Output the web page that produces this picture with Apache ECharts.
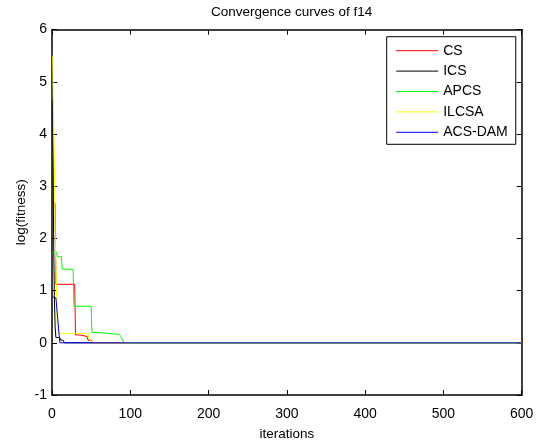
<!DOCTYPE html>
<html>
<head>
<meta charset="utf-8">
<script src="https://cdn.jsdelivr.net/npm/echarts@6/dist/echarts.min.js"></script>
<style>html,body{margin:0;padding:0;background:#fff}#c{width:537px;height:446px}</style>
</head>
<body>
<div id="c"></div>
<script>
var seriesNames = ['CS', 'ICS', 'APCS', 'ILCSA', 'ACS-DAM'];
var seriesColors = ['#ff0000', '#000000', '#00ff00', '#ffff00', '#0000ff'];
var xTicks = [0, 100, 200, 300, 400, 500, 600];
var yTicks = [-1, 0, 1, 2, 3, 4, 5, 6];
// [iteration, log(fitness)] vertices
var csData = [[1,2.7],[4,2.67],[5,1.12],[29,1.12],[30,0.15],[36,0.15],[37,0.12],[45,0.12],[46,0.05],[50,0.05],[52,0],[600,0]];
var icsData = [[1,4.65],[2,2.1],[3,0.9],[4,0.3],[5,0.1],[10,0.1],[11,0.05],[14,0.05],[16,0],[600,0]];
var apcsData = [[1,1.73],[6,1.73],[7,1.65],[12,1.65],[13,1.41],[27,1.41],[28,0.7],[50,0.7],[51,0.2],[65,0.19],[66,0.17],[86,0.16],[88,0.12],[92,0],[600,0]];
var ilcsaData = [[1,5.5],[2,4.3],[3,3.5],[4,2.1],[5,1.5],[6,0.8],[7,0.18],[46,0.18],[47,0.08],[50,0.03],[53,0],[600,0]];
var acsdamData = [[1,0.88],[5,0.86],[10,0],[600,0]];

var allData = [csData, icsData, apcsData, ilcsaData, acsdamData];
var font = 'Liberation Sans, Arial, Helvetica, sans-serif';

var chart = echarts.init(document.getElementById('c'), null, {renderer: 'canvas'});
var axisCommon = {
  axisLine: {show: true, onZero: false, lineStyle: {color: '#000', width: 1.5}},
  axisTick: {show: true, inside: true, length: 5, lineStyle: {color: '#000', width: 1}},
  splitLine: {show: false}
};
var option = {
  animation: false,
  backgroundColor: '#fff',
  title: {
    text: 'Convergence curves of f14',
    left: 286.7, top: 0, textAlign: 'center',
    textStyle: {fontFamily: font, fontSize: 13.5, fontWeight: 'normal', color: '#000'}
  },
  grid: {left: 52, right: 15.3, top: 29.6, bottom: 45},
  legend: {
    data: seriesNames,
    orient: 'vertical',
    left: 386.7, top: 36.7,
    padding: [7, 8, 5, 9],
    itemWidth: 42, itemHeight: 14, itemGap: 6.4,
    itemStyle: {opacity: 0},
    lineStyle: {width: 1},
    backgroundColor: '#fff',
    borderColor: '#000', borderWidth: 1,
    textStyle: {fontFamily: font, fontSize: 14, color: '#000'}
  },
  xAxis: [
    Object.assign({
      type: 'value', min: xTicks[0], max: xTicks[xTicks.length - 1], interval: 100,
      name: 'iterations', nameLocation: 'middle', nameGap: 32, nameMoveOverlap: false,
      nameTextStyle: {fontFamily: font, fontSize: 13.5, color: '#000'},
      axisLabel: {fontFamily: font, fontSize: 14, color: '#000', margin: 12}
    }, axisCommon),
    Object.assign({
      type: 'value', position: 'top', min: xTicks[0], max: xTicks[xTicks.length - 1], interval: 100,
      axisLabel: {show: false}
    }, axisCommon)
  ],
  yAxis: [
    Object.assign({
      type: 'value', min: yTicks[0], max: yTicks[yTicks.length - 1], interval: 1,
      name: 'log(fitness)', nameLocation: 'middle', nameGap: 24, nameMoveOverlap: false,
      nameTextStyle: {fontFamily: font, fontSize: 13.5, color: '#000'},
      axisLabel: {fontFamily: font, fontSize: 14, color: '#000', margin: 5}
    }, axisCommon),
    Object.assign({
      type: 'value', position: 'right', min: yTicks[0], max: yTicks[yTicks.length - 1], interval: 1,
      axisLabel: {show: false}
    }, axisCommon)
  ],
  series: seriesNames.map(function (n, i) {
    return {
      name: n, type: 'line', data: allData[i],
      xAxisIndex: 0, yAxisIndex: 0,
      symbol: 'none', showSymbol: false,
      lineStyle: {color: seriesColors[i], width: 1},
      itemStyle: {color: seriesColors[i]},
      z: 2 + i
    };
  })
};
chart.setOption(option);
</script>
</body>
</html>
